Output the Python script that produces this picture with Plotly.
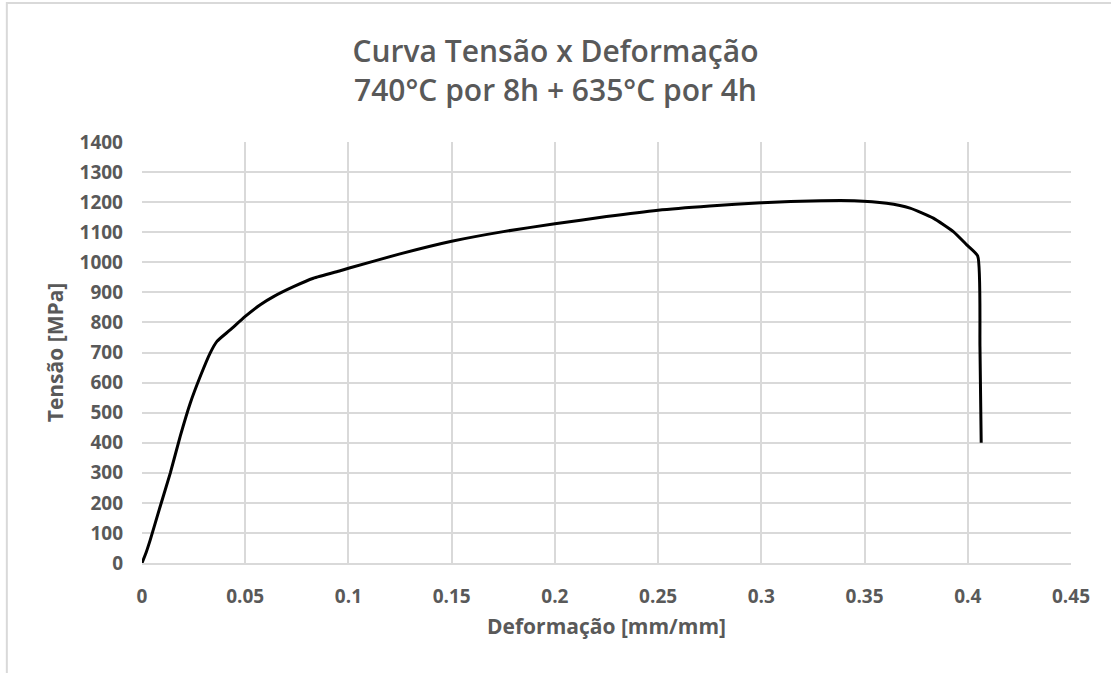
import plotly.graph_objects as go

# Stress-strain curve, 740°C for 8h + 635°C for 4h
strain = [0, 0.002, 0.004, 0.0088, 0.0137, 0.0185, 0.0234, 0.0282, 0.033, 0.0363,
          0.0427, 0.05, 0.0573, 0.0637, 0.0734, 0.083, 0.096, 0.1, 0.125, 0.15,
          0.175, 0.2, 0.225, 0.25, 0.275, 0.3, 0.3285, 0.345, 0.3607, 0.372,
          0.3833, 0.393, 0.3995, 0.4048, 0.4059, 0.4065]
stress = [0, 35, 77, 188, 299, 421, 532, 620, 698, 737,
          775, 820, 859, 886, 919, 947, 972, 980, 1028, 1070,
          1102, 1128, 1152, 1173, 1187, 1198, 1205, 1205, 1196, 1180,
          1147, 1102, 1058, 1021, 720, 400]

x_ticks = [0, 0.05, 0.1, 0.15, 0.2, 0.25, 0.3, 0.35, 0.4, 0.45]
x_labels = ["0", "0.05", "0.1", "0.15", "0.2", "0.25", "0.3", "0.35", "0.4", "0.45"]
y_ticks = list(range(0, 1401, 100))

TXT = "#595959"
GRID = "#d9d9d9"
FONT = "Open Sans"

fig = go.Figure()
fig.add_trace(go.Scatter(
    x=strain, y=stress, mode="lines",
    line=dict(color="black", width=3, shape="spline", smoothing=0.5),
    showlegend=False, hoverinfo="x+y",
))

fig.update_layout(
    width=1111, height=673,
    margin=dict(l=142, r=40, t=142, b=110),
    paper_bgcolor="white", plot_bgcolor="white",
    font=dict(family=FONT, color=TXT),
    title=dict(
        text="Curva Tensão x Deformação<br>740°C por 8h + 635°C por 4h",
        x=0.5, xanchor="center", y=0.908, yanchor="middle",
        font=dict(family=FONT, size=30, color=TXT, weight=600),
    ),
    shapes=[dict(type="rect", xref="paper", yref="paper",
                 x0=-0.1455, x1=1.2, y0=1.33, y1=-0.5,
                 line=dict(color=GRID, width=2), layer="below")],
)

fig.update_xaxes(
    range=[0, 0.45], tickvals=x_ticks, ticktext=x_labels,
    showgrid=True, gridcolor=GRID, gridwidth=2,
    showline=True, linecolor=GRID, linewidth=2, mirror=False,
    zeroline=False, ticks="", ticklabelstandoff=15,
    tickfont=dict(family=FONT, size=19, color=TXT, weight="bold"),
    title=dict(text="Deformação [mm/mm]", standoff=12,
               font=dict(family=FONT, size=21, color=TXT, weight="bold")),
)
fig.update_yaxes(
    range=[0, 1400], tickvals=y_ticks,
    showgrid=True, gridcolor=GRID, gridwidth=2,
    showline=False, zeroline=False, ticks="", ticklabelstandoff=18,
    tickfont=dict(family=FONT, size=19, color=TXT, weight="bold"),
    title=dict(text="Tensão [MPa]", standoff=10,
               font=dict(family=FONT, size=21, color=TXT, weight="bold")),
)

fig.write_html("out.html")
